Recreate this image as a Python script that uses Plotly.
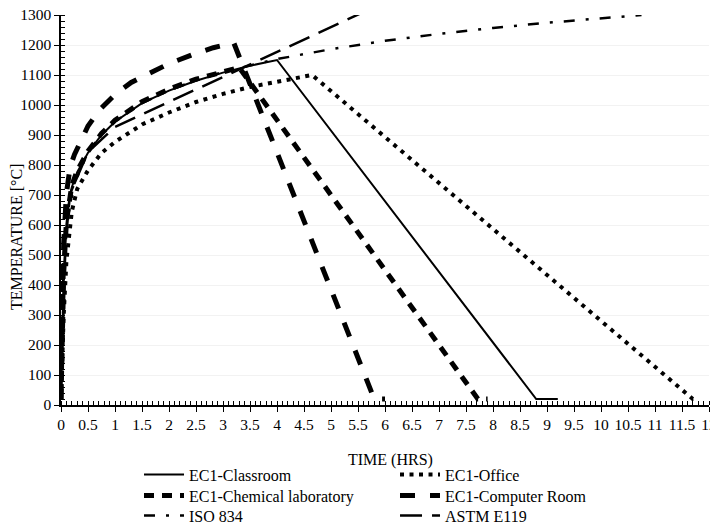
import plotly.graph_objects as go

# ---- data ----
classroom_t = [0, 0.02, 0.05, 0.1, 0.15, 0.2, 0.3, 0.5, 0.75, 1.0, 1.5, 2.0, 2.5, 3.0, 3.5, 4.0, 8.8, 9.2]
classroom_T = [20, 228, 430, 603, 683, 726, 776, 841, 900, 944, 1006, 1048, 1081, 1108, 1131, 1150, 20, 20]

office_t = [0, 0.02, 0.05, 0.1, 0.15, 0.2, 0.3, 0.5, 0.75, 1.0, 1.5, 2.0, 2.5, 3.0, 3.5, 4.0, 4.3, 4.65, 11.7, 11.75]
office_T = [20, 150, 300, 480, 580, 645, 720, 782, 840, 877, 935, 975, 1010, 1037, 1060, 1078, 1090, 1100, 20, 20]

chem_t = [0, 0.02, 0.05, 0.1, 0.15, 0.2, 0.3, 0.5, 0.75, 1.0, 1.5, 2.0, 2.5, 3.0, 3.3, 7.72, 7.9]
chem_T = [20, 235, 440, 612, 690, 732, 781, 846, 905, 949, 1011, 1053, 1086, 1112, 1125, 20, 20]

comp_t = [0, 0.02, 0.05, 0.1, 0.17, 0.25, 0.35, 0.5, 0.72, 1.0, 1.3, 1.65, 2.0, 2.5, 2.82, 3.2, 5.8, 6.0]
comp_T = [20, 320, 540, 705, 795, 835, 875, 930, 985, 1035, 1075, 1108, 1138, 1172, 1191, 1207, 20, 20]

iso_t = [0, 0.05, 0.1, 0.25, 0.5, 0.75, 1, 1.5, 2, 2.5, 3, 4, 5, 6, 7, 8, 9, 10, 10.75]
iso_T = [20, 502, 603, 739, 842, 902, 945, 1006, 1049, 1082, 1110, 1153, 1186, 1214, 1237, 1257, 1274, 1290, 1300]

astm_t = [0, 0.083, 0.167, 0.5, 1, 2, 3, 4, 5, 6]
astm_T = [20, 538, 704, 843, 927, 1010, 1093, 1177, 1260, 1343]

names = ["EC1-Classroom", "EC1-Office", "EC1-Chemical laboratory",
         "EC1-Computer Room", "ISO 834", "ASTM E119"]

x_ticks = [i * 0.5 for i in range(25)]
y_ticks = list(range(0, 1301, 100))

FONT = "Liberation Serif"

series = [
    (classroom_t, classroom_T, dict(width=2, dash="solid"), "legend"),
    (office_t, office_T, dict(width=4, dash="4px,5.5px"), "legend"),
    (chem_t, chem_T, dict(width=5, dash="10px,8px"), "legend2"),
    (comp_t, comp_T, dict(width=5, dash="15px,15px"), "legend2"),
    (iso_t, iso_T, dict(width=2.5, dash="11px,11px,3px,11px"), "legend3"),
    (astm_t, astm_T, dict(width=2.5, dash="22px,10px"), "legend3"),
]

fig = go.Figure()
for (t, T, ln, lg), nm in zip(series, names):
    fig.add_trace(go.Scatter(x=t, y=T, mode="lines", name=nm, legend=lg,
                             line=dict(color="black", **ln)))

# empty helper trace so the overlay axes (inner half of the crossing major ticks) are drawn
fig.add_trace(go.Scatter(x=[], y=[], xaxis="x2", yaxis="y2", showlegend=False,
                         hoverinfo="skip"))

axis_common = dict(showline=True, linecolor="black", linewidth=1.5,
                   ticks="outside", ticklen=5, tickcolor="black", tickwidth=1,
                   zeroline=False, mirror=False, automargin=False,
                   ticklabeloverflow="allow",
                   tickfont=dict(family=FONT, size=15.5, color="black"))

def make_legend(ypos):
    return dict(orientation="h", x=0.1204, xanchor="left", y=ypos, yanchor="top",
                entrywidth=201, entrywidthmode="pixels", itemwidth=40,
                font=dict(family=FONT, size=16, color="black"),
                bgcolor="rgba(0,0,0,0)", tracegroupgap=0)

fig.update_layout(
    width=710, height=516,
    margin=dict(l=53, r=9, t=7, b=119, autoexpand=False),
    paper_bgcolor="white", plot_bgcolor="white",
    font=dict(family=FONT, size=16, color="black"),
    xaxis=dict(range=[0, 12], tickvals=x_ticks, showgrid=False,
               minor=dict(dtick=0.1, ticks="inside", ticklen=4, tickcolor="black", showgrid=False),
               **axis_common),
    yaxis=dict(range=[0, 1300], tickvals=y_ticks, showgrid=True, gridcolor="#f2f2f2", gridwidth=1,
               minor=dict(dtick=20, ticks="inside", ticklen=4, tickcolor="black", showgrid=False),
               **axis_common),
    xaxis2=dict(overlaying="x", anchor="y2", range=[0, 12], tickvals=x_ticks,
                ticks="inside", ticklen=4, tickcolor="black", tickwidth=1,
                showticklabels=False, showline=False, showgrid=False, zeroline=False,
                automargin=False),
    yaxis2=dict(overlaying="y", anchor="x2", range=[0, 1300], tickvals=y_ticks,
                ticks="inside", ticklen=4, tickcolor="black", tickwidth=1,
                showticklabels=False, showline=False, showgrid=False, zeroline=False,
                automargin=False),
    showlegend=True,
    legend=make_legend(-0.1346),
    legend2=make_legend(-0.1885),
    legend3=make_legend(-0.2397),
    annotations=[
        dict(text="TIME (HRS)", xref="paper", yref="paper", x=0.509, y=0,
             yshift=-55, xanchor="center", yanchor="middle", showarrow=False,
             font=dict(family=FONT, size=16, color="black")),
        dict(text="TEMPERATURE [°C]", xref="paper", yref="paper", x=0, y=(397 - 229) / 390,
             xshift=-45, xanchor="center", yanchor="middle", textangle=-90, showarrow=False,
             font=dict(family=FONT, size=16, color="black")),
    ],
)

fig.write_html("out.html")
